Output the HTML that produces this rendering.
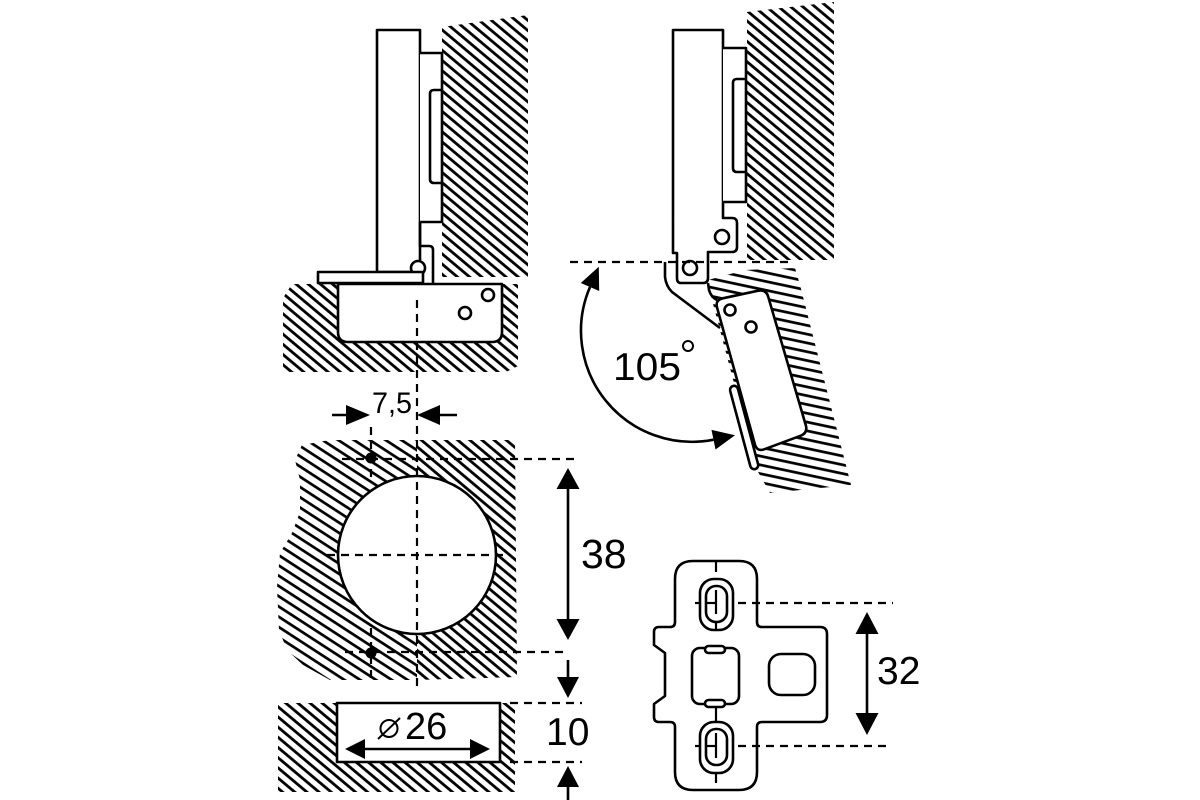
<!DOCTYPE html>
<html><head><meta charset="utf-8"><style>html,body{margin:0;padding:0;background:#fff}svg{display:block}</style></head>
<body>
<svg width="1200" height="800" viewBox="0 0 1200 800" xmlns="http://www.w3.org/2000/svg">
<defs>
<pattern id="h45" patternUnits="userSpaceOnUse" width="7.8" height="10" patternTransform="rotate(-50)"><rect x="2.5" y="0" width="2.8" height="10" fill="#000"/></pattern>
<pattern id="h35" patternUnits="userSpaceOnUse" width="8.6" height="10" patternTransform="rotate(-57)"><rect x="3" y="0" width="2.7" height="10" fill="#000"/></pattern>
<pattern id="h12" patternUnits="userSpaceOnUse" width="8.6" height="10" patternTransform="rotate(-78)"><rect x="3" y="0" width="2.7" height="10" fill="#000"/></pattern>
</defs>
<rect width="1200" height="800" fill="#fff"/>

<!-- hatch regions -->
<path d="M442,27 L528,15 L528,277 L442,277 Z" fill="url(#h45)"/>
<path d="M292,284 L518,284 L518,366 L506,372 L283,372 L283,298 Z" fill="url(#h45)"/>
<path d="M747,12 L834,2 L834,260 L747,260 Z" fill="url(#h45)"/>
<path d="M708,280 L745,270 L795,268 L800,285 L851,485 L770,493 L757,470 L712,300 Z" fill="url(#h12)"/>
<path d="M302,445 L330,440 L417,440 L417,680 L330,680 L303,665 L287,650 L279,630 L277,587 L280,553 L292,533 L300,512 L300,480 L295,460 Z" fill="url(#h35)"/>
<path d="M417,440 L515,440 L517,677 L417,680 Z" fill="url(#h45)"/>
<path d="M278,703 L515,703 L515,792 L278,792 Z" fill="url(#h45)"/>

<g fill="#fff" stroke="#000" stroke-width="2.6" stroke-linejoin="round">
<!-- hinge 1 -->
<rect x="377" y="30" width="43" height="242"/>
<path d="M420,53 L442,53 L442,222 L420,222"/>
<path d="M442,90 L434,90 Q430,90 430,94 L430,179 Q430,183 434,183 L442,183" fill="none"/>
<path d="M420,222 L420,246 L429,246 Q433,246 433,250 L433,284" fill="none"/>
<circle cx="418" cy="268" r="7"/>
<rect x="318" y="272" width="105" height="11"/>
<path d="M338,284 L502,284 L502,332 Q502,342 492,342 L348,342 Q338,342 338,332 Z"/>
<circle cx="488" cy="295" r="6"/>
<circle cx="465" cy="313" r="6"/>

<!-- hinge 2 -->
<path d="M673,30 L723,30 L723,218 L732,218 Q737,218 737,223 L737,247 Q737,252 732,252 L708,252 L708,278 Q708,283 703,283 L681,283 Q677,283 677,278 L677,253 L673,253 Z"/>
<path d="M723,48 L746,48 L746,202 L723,202"/>
<path d="M746,79 L737,79 Q733,79 733,83 L733,168 Q733,172 737,172 L746,172" fill="none"/>
<circle cx="722" cy="237" r="7"/>
<circle cx="690" cy="268" r="7"/>
<path d="M708,283 L709,290 Q711,297 717,300" fill="none"/>
<path d="M665,262 L665,277 Q666,286 672,292 L720,328" fill="none"/>
<path d="M722.8,298.3 L758.2,290.7 Q766,289 768.2,296.7 L805.8,425.3 Q808,433 800.5,435.8 L764.5,449.2 Q757,452 754.9,444.3 L717.1,307.7 Q715,300 722.8,298.3 Z"/>
<circle cx="730" cy="310" r="5.5"/>
<circle cx="751" cy="327" r="5.5"/>
<rect x="-4" y="0" width="8" height="86" rx="4" transform="translate(733,386) rotate(-15)"/>

<!-- middle -->
<circle cx="417" cy="555" r="79"/>
<rect x="337" y="703" width="163" height="59"/>

<!-- plate -->
<path d="M693,561 L739,561 Q757,561 757,579 L757,622 Q757,627 762,627 L820,627 Q827,627 827,634 L827,715 Q827,722 820,722 L762,722 Q757,722 757,727 L757,772 Q757,790 739,790 L693,790 Q675,790 675,772 L675,727 Q675,722 670,722 L659,722 Q654,722 654,717 L654,704 L665,696 L665,653 L654,645 L654,632 Q654,627 659,627 L670,627 Q675,627 675,622 L675,579 Q675,561 693,561 Z"/>
<rect x="700" y="579" width="33" height="51" rx="14"/>
<rect x="706" y="586" width="21" height="36" rx="10"/>
<rect x="700" y="722" width="33" height="51" rx="14"/>
<rect x="706" y="729" width="21" height="36" rx="10"/>
<rect x="692" y="648" width="47" height="56" rx="8"/>
<rect x="705" y="646" width="20" height="7" rx="3.5"/>
<rect x="705" y="700" width="20" height="7" rx="3.5"/>
<rect x="769" y="654" width="46" height="41" rx="12"/>
</g>

<!-- plate center marks -->
<g stroke="#000" stroke-width="2.2" fill="none">
<line x1="716" y1="561" x2="716" y2="572"/>
<line x1="716" y1="590" x2="716" y2="614"/>
<line x1="706" y1="603" x2="716" y2="603"/>
<line x1="716" y1="622" x2="716" y2="630"/>
<line x1="695" y1="603" x2="701" y2="603"/>
<line x1="716" y1="707" x2="716" y2="721"/>
<line x1="716" y1="733" x2="716" y2="758"/>
<line x1="706" y1="746" x2="716" y2="746"/>
<line x1="716" y1="773" x2="716" y2="783"/>
<line x1="695" y1="746" x2="701" y2="746"/>
</g>

<!-- dashed lines -->
<g stroke="#000" stroke-width="2.2" stroke-dasharray="8 6" fill="none">
<line x1="417" y1="300" x2="417" y2="692"/>
<line x1="570" y1="262" x2="790" y2="262"/>
<line x1="327" y1="555" x2="507" y2="555"/>
<line x1="342" y1="459" x2="578" y2="459"/>
<line x1="345" y1="652" x2="568" y2="652"/>
<line x1="371" y1="427" x2="371" y2="483"/>
<line x1="371" y1="628" x2="371" y2="680"/>
<line x1="510" y1="703" x2="582" y2="703"/>
<line x1="510" y1="762" x2="582" y2="762"/>
<line x1="738" y1="603" x2="893" y2="603"/>
<line x1="738" y1="746" x2="891" y2="746"/>
</g>

<!-- dots -->
<circle cx="371" cy="458" r="5.5" fill="#000"/>
<circle cx="371" cy="653" r="5.5" fill="#000"/>

<!-- dimension lines -->
<g stroke="#000" stroke-width="2.6" fill="none">
<path d="M590,287 A111,111 0 0 0 713.5,439.7"/>
<line x1="332" y1="415" x2="350" y2="415"/>
<line x1="436" y1="415" x2="457" y2="415"/>
<line x1="568" y1="485" x2="568" y2="623"/>
<line x1="568" y1="660" x2="568" y2="680"/>
<line x1="568" y1="784" x2="568" y2="800"/>
<line x1="362" y1="749" x2="473" y2="749"/>
<line x1="867" y1="630" x2="867" y2="717"/>
<circle cx="688" cy="346" r="5" stroke-width="2"/>
</g>
<g fill="#000">
<polygon points="598.8,266.8 580.8,283 599.2,291"/>
<polygon points="735,435.2 711.5,429.9 715.5,449.5"/>
<polygon points="370,415 346,405 346,425"/>
<polygon points="417,415 440,405 440,425"/>
<polygon points="568,468 556.5,489 579.5,489"/>
<polygon points="568,640 556.5,619 579.5,619"/>
<polygon points="568,698 557,677 579,677"/>
<polygon points="568,766 557,787 579,787"/>
<polygon points="345,749 365,739 365,759"/>
<polygon points="490,749 470,739 470,759"/>
<polygon points="867,612 855.5,634 878.5,634"/>
<polygon points="867,735 855.5,713 878.5,713"/>
</g>

<!-- diameter symbol -->
<g stroke="#000" stroke-width="2" fill="none">
<circle cx="389" cy="728.5" r="8.5"/>
<line x1="378" y1="739" x2="400" y2="718"/>
</g>

<g font-family="Liberation Sans, Arial, sans-serif" fill="#000">
<text x="613" y="380" font-size="39" textLength="68" lengthAdjust="spacingAndGlyphs">105</text>
<text x="372" y="413" font-size="30" textLength="40" lengthAdjust="spacingAndGlyphs">7,5</text>
<text x="581" y="568" font-size="41">38</text>
<text x="546" y="745" font-size="39">10</text>
<text x="405" y="739" font-size="38">26</text>
<text x="877" y="684" font-size="39">32</text>
</g>
</svg>
</body></html>
